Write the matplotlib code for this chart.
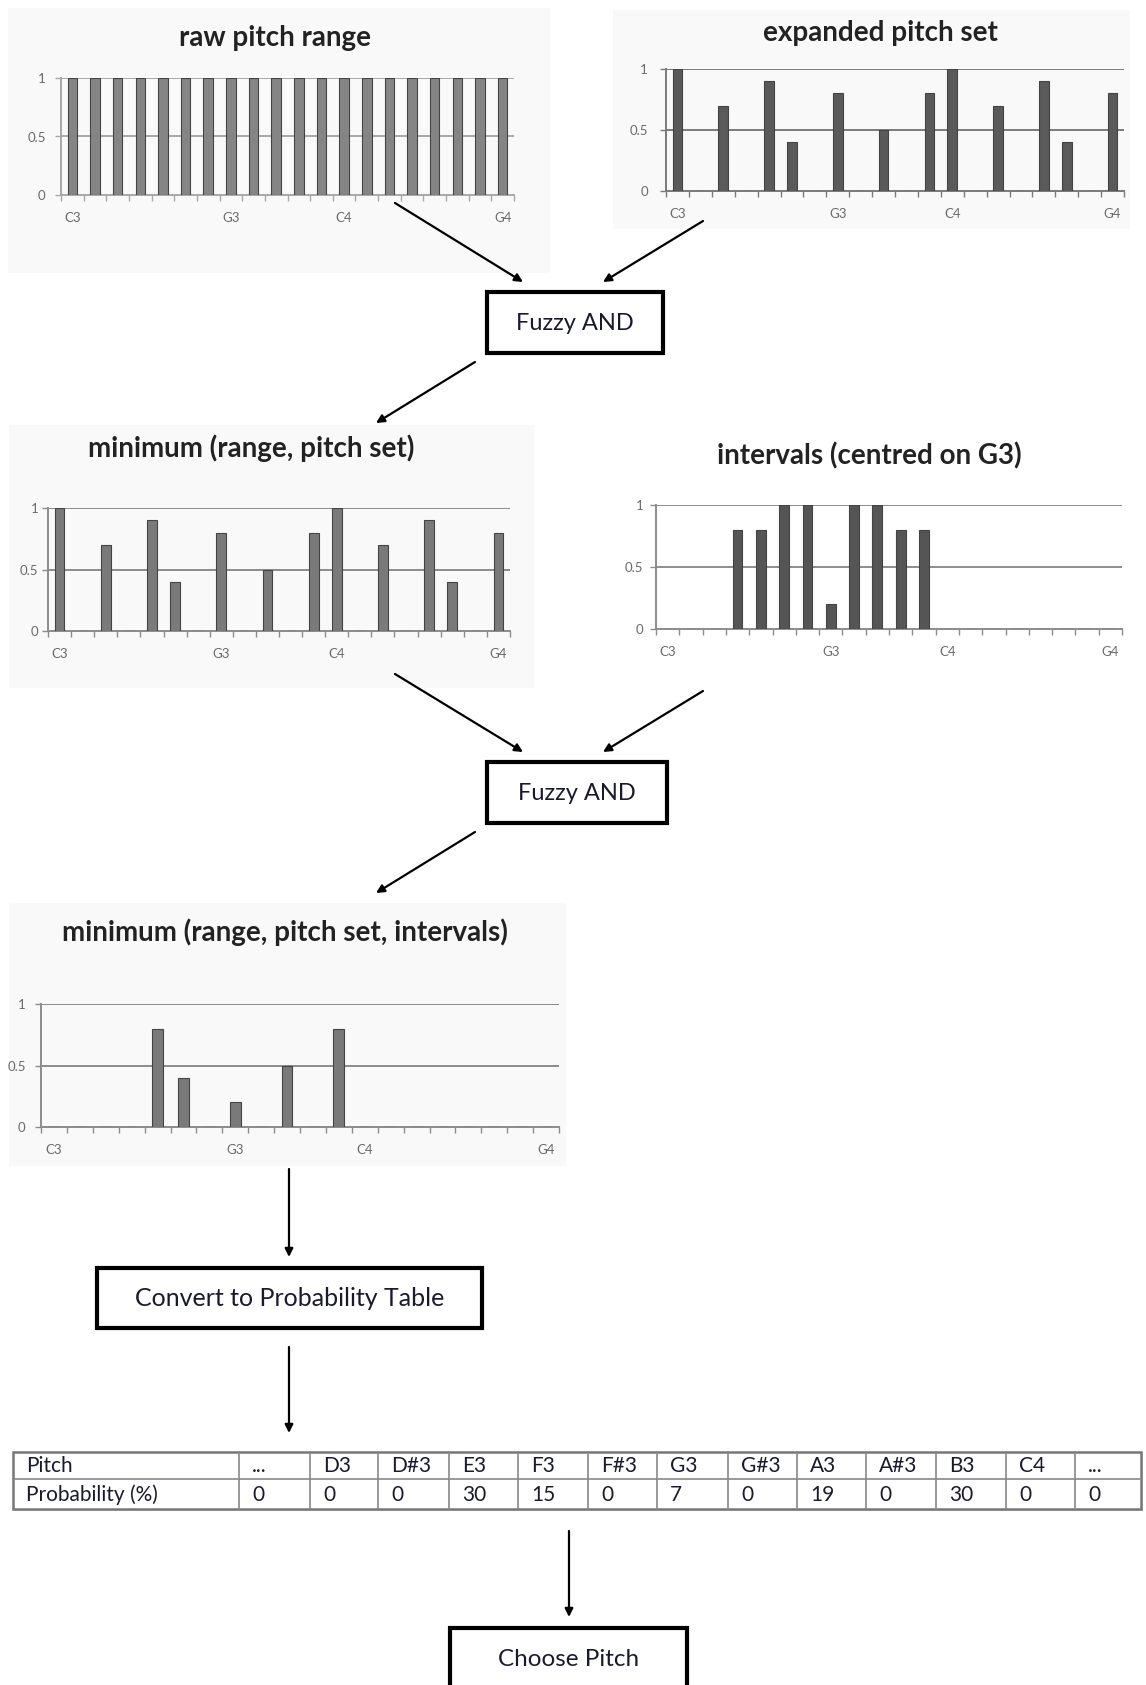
import matplotlib
matplotlib.use('Agg')
import matplotlib.pyplot as plt
from matplotlib.patches import Rectangle

plt.rcParams['font.family'] = ['Lato', 'DejaVu Sans']

# pitches C3..G4, one bar per semitone
pitches = ['C3', 'C#3', 'D3', 'D#3', 'E3', 'F3', 'F#3', 'G3', 'G#3', 'A3',
           'A#3', 'B3', 'C4', 'C#4', 'D4', 'D#4', 'E4', 'F4', 'F#4', 'G4']
tick_names = ['C3', 'G3', 'C4', 'G4']

raw_range = [1, 1, 1, 1, 1, 1, 1, 1, 1, 1, 1, 1, 1, 1, 1, 1, 1, 1, 1, 1]
pitch_set = [1.0, 0, 0.7, 0, 0.9, 0.4, 0, 0.8, 0, 0.5, 0, 0.8, 1.0, 0, 0.7, 0, 0.9, 0.4, 0, 0.8]
min_range_set = [1.0, 0, 0.7, 0, 0.9, 0.4, 0, 0.8, 0, 0.5, 0, 0.8, 1.0, 0, 0.7, 0, 0.9, 0.4, 0, 0.8]
intervals = [0, 0, 0, 0.8, 0.8, 1.0, 1.0, 0.2, 1.0, 1.0, 0.8, 0.8, 0, 0, 0, 0, 0, 0, 0, 0]
min_all = [0, 0, 0, 0, 0.8, 0.4, 0, 0.2, 0, 0.5, 0, 0.8, 0, 0, 0, 0, 0, 0, 0, 0]

table_pitch = ['...', 'D3', 'D#3', 'E3', 'F3', 'F#3', 'G3', 'G#3', 'A3', 'A#3', 'B3', 'C4', '...']
table_prob = [0, 0, 0, 30, 15, 0, 7, 0, 19, 0, 30, 0, 0]

W, H = 1146, 1685
fig = plt.figure(figsize=(W / 100, H / 100), dpi=100)

# full-figure axes in pixel coords for boxes, arrows, table
bg = fig.add_axes([0, 0, 1, 1])
bg.set_xlim(0, W)
bg.set_ylim(H, 0)
bg.axis('off')

# faint chart panels
for l, t, r, b in [(8, 8, 550, 273), (613, 10, 1130, 229), (9, 425, 534, 688), (9, 903, 566, 1166)]:
    bg.add_patch(Rectangle((l, t), r - l, b - t, facecolor='#f9f9f9', edgecolor='none'))


def chart(box, title, title_xy, values, color, grid, ypad):
    l, t, r, b = box
    ax = fig.add_axes([l / W, 1 - b / H, (r - l) / W, (b - t) / H])
    ax.set_facecolor('none')
    x = [i + 0.5 for i in range(len(pitches))]
    ax.bar(x, values, width=0.42, color=color, edgecolor='#444444', linewidth=0.8, zorder=3)
    ax.set_xlim(0, len(pitches))
    ax.set_ylim(0, 1)
    for y in [0.5, 1]:
        ax.axhline(y, color=grid, lw=1.4, zorder=1)
    for s in ['top', 'right']:
        ax.spines[s].set_visible(False)
    for s in ['left', 'bottom']:
        ax.spines[s].set_color(grid)
        ax.spines[s].set_linewidth(1.4)
    ax.set_yticks([0, 0.5, 1], ['0', '0.5', '1'])
    ax.set_xticks(range(len(pitches) + 1), [''] * (len(pitches) + 1))
    ax.set_xticks([pitches.index(n) + 0.5 for n in tick_names], tick_names, minor=True)
    ax.tick_params(axis='y', length=4, width=1, color=grid, labelsize=9.5,
                   labelcolor='#6a6a6a', pad=ypad)
    ax.tick_params(axis='x', which='major', length=4, width=1, color=grid)
    ax.tick_params(axis='x', which='minor', length=0, labelsize=9.5, labelcolor='#6a6a6a', pad=12)
    bg.text(title_xy[0], title_xy[1], title, ha='center', va='center', fontsize=20,
            fontweight='bold', color='#222222')
    return ax


chart((61, 78, 514, 195), 'raw pitch range', (275, 38), raw_range, '#858585', '#a8a8a8', 7)
chart((666, 69, 1124, 191), 'expanded pitch set', (880, 33), pitch_set, '#5a5a5a', '#7a7a7a', 9)
chart((48, 508, 510, 631), 'minimum (range, pitch set)', (251, 448), min_range_set, '#7a7a7a', '#8c8c8c', 3)
chart((656, 505, 1122, 629), 'intervals (centred on G3)', (869, 456), intervals, '#555555', '#8c8c8c', 5)
chart((41, 1004, 559, 1127), 'minimum (range, pitch set, intervals)', (285, 932), min_all, '#7a7a7a',
      '#8c8c8c', 7)


def box(l, t, r, b, label, size, ty):
    bg.add_patch(Rectangle((l, t), r - l, b - t, facecolor='white', edgecolor='black', lw=3))
    bg.text((l + r) / 2, ty, label, ha='center', va='center', fontsize=size, color='#1a1a2e')


def arrow(x0, y0, x1, y1):
    bg.annotate('', xy=(x1, y1), xytext=(x0, y0),
                arrowprops=dict(arrowstyle='-|>', lw=1.6, color='black', mutation_scale=12,
                                shrinkA=0, shrinkB=0))


box(487, 292, 663, 353, 'Fuzzy AND', 17, 324)
box(487, 762, 667, 823, 'Fuzzy AND', 17, 794)
box(97, 1268, 482, 1328, 'Convert to Probability Table', 18, 1299)
box(450, 1628, 687, 1710, 'Choose Pitch', 17.5, 1660)

arrow(395, 203, 523, 282)
arrow(703, 221, 603, 282)
arrow(475, 362, 376, 423)
arrow(395, 674, 523, 752)
arrow(703, 691, 603, 752)
arrow(475, 832, 376, 893)
arrow(289, 1169, 289, 1257)
arrow(289, 1347, 289, 1433)
arrow(569, 1531, 569, 1617)

# probability table
cols = [13, 239, 310, 378, 449, 518, 588, 657, 728, 797, 866, 936, 1006, 1075, 1141]
top, mid, bot = 1452, 1479, 1509
bg.add_patch(Rectangle((cols[0] + 2, top + 2), cols[-1] - cols[0], bot - top,
                       facecolor='#d0d0d0', edgecolor='none'))
bg.add_patch(Rectangle((cols[0], top), cols[-1] - cols[0], bot - top,
                       facecolor='white', edgecolor='#777777', lw=1.8))
bg.plot([cols[0], cols[-1]], [mid, mid], color='#888888', lw=1.2)
for c in cols[1:-1]:
    bg.plot([c, c], [top, bot], color='#888888', lw=1.2)
row1 = ['Pitch'] + table_pitch
row2 = ['Probability (%)'] + [str(v) for v in table_prob]
for i in range(len(row1)):
    bg.text(cols[i] + 13, (top + mid) / 2 + 1, row1[i], ha='left', va='center', fontsize=15,
            color='#1a1a2e')
    bg.text(cols[i] + 13, (mid + bot) / 2 + 1, row2[i], ha='left', va='center', fontsize=15,
            color='#1a1a2e')

fig.savefig('out.png', dpi=100)
